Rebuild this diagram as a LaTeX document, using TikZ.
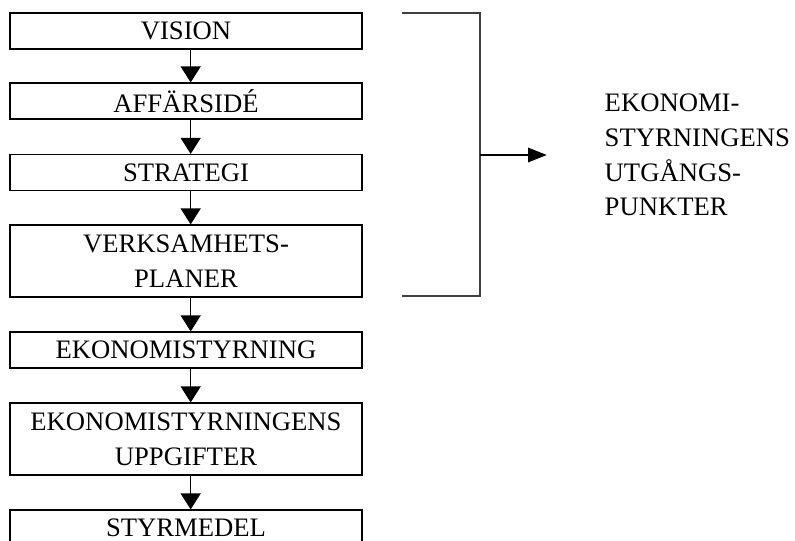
\documentclass[tikz,border=0pt]{standalone}
\usepackage{fontspec}
\setmainfont{Liberation Serif}
\usetikzlibrary{arrows.meta}

\begin{document}
\begin{tikzpicture}[
    x=0.75pt, y=-0.75pt,
    box/.style={draw, line width=0.9pt, minimum width=264pt, minimum height=27pt,
      inner sep=0pt, align=center, font=\fontsize{20}{26}\selectfont},
    tall/.style={minimum height=54pt},
    flow/.style={-{Triangle[length=12pt,width=15pt]}, line width=0.9pt},
    lbl/.style={font=\fontsize{20}{26}\selectfont, align=left}
  ]
  \useasboundingbox (0,0) rectangle (795,540);
  % chain of boxes
  \node[box] (vision) at (186,31) {VISION};
  \node[box] (affar) at (186,101) {AFFÄRSIDÉ};
  \node[box] (strat) at (186,172.5) {STRATEGI};
  \node[box, tall] (plan) at (186,261) {VERKSAMHETS-\\PLANER};
  \node[box] (ekon) at (186,350) {EKONOMISTYRNING};
  \node[box, tall] (uppg) at (186,439) {EKONOMISTYRNINGENS\\UPPGIFTER};
  \node[box] (styr) at (186,528) {STYRMEDEL};
  \draw[flow] ([xshift=3.5pt]vision.south) -- ([xshift=3.5pt]affar.north);
  \draw[flow] ([xshift=3.5pt]affar.south) -- ([xshift=3.5pt]strat.north);
  \draw[flow] ([xshift=3.5pt]strat.south) -- ([xshift=3.5pt]plan.north);
  \draw[flow] ([xshift=3.5pt]plan.south) -- ([xshift=3.5pt]ekon.north);
  \draw[flow] ([xshift=3.5pt]ekon.south) -- ([xshift=3.5pt]uppg.north);
  \draw[flow] ([xshift=3.5pt]uppg.south) -- ([xshift=3.5pt]styr.north);
  % bracket over the first four
  \coordinate (btop) at (402,13);
  \coordinate (bbot) at (402,296);
  \coordinate (bmid) at (480,155);
  \node[lbl, anchor=west] (utg) at (600,155) {EKONOMI-\\STYRNINGENS\\UTGÅNGS-\\PUNKTER};
  \draw[black!75, line width=1.2pt] (btop) -| (bbot -| bmid) -- (bbot);
  \draw[-{Triangle[length=14pt,width=11pt]}, line width=0.9pt] (bmid) -- ([xshift=-40pt]utg.west);
\end{tikzpicture}
\end{document}
